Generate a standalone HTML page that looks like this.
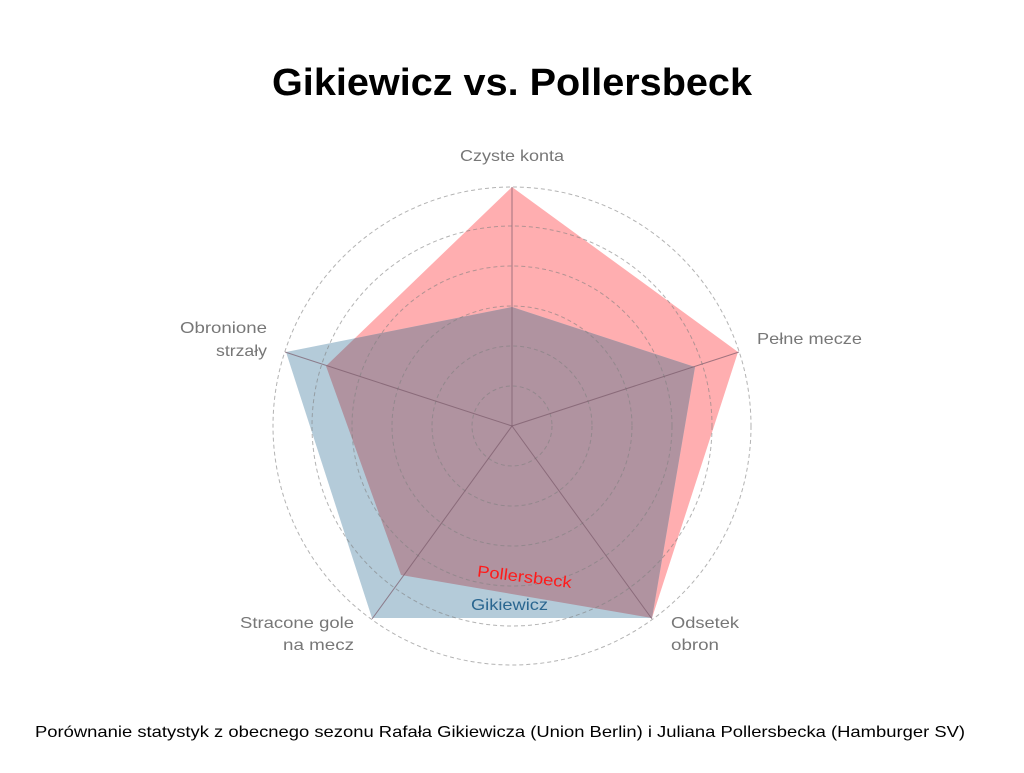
<!DOCTYPE html>
<html><head><meta charset="utf-8"><style>
body{margin:0;background:#fff;width:1024px;height:768px;overflow:hidden}
text{font-family:"Liberation Sans",sans-serif}
</style></head><body>
<svg width="1024" height="768" viewBox="0 0 1024 768" xmlns="http://www.w3.org/2000/svg">
<defs>
<clipPath id="cb"><polygon points="512,307 695,367 652,618 372,618 286,352"/></clipPath>
</defs>
<text x="512" y="95" text-anchor="middle" font-size="38" font-weight="bold" fill="#000" textLength="480" lengthAdjust="spacingAndGlyphs">Gikiewicz vs. Pollersbeck</text>
<polygon points="512,187 738,352 652,618 401,575 326,366" fill="#ffaeb0"/>
<polygon points="512,307 695,367 652,618 372,618 286,352" fill="#b4cbd9"/>
<polygon points="512,187 738,352 652,618 401,575 326,366" fill="#b093a0" clip-path="url(#cb)"/>
<g fill="none" stroke="#808080" stroke-opacity="0.6" stroke-dasharray="4,3" stroke-width="1">
<circle cx="512" cy="426" r="40"/><circle cx="512" cy="426" r="80"/><circle cx="512" cy="426" r="120"/>
<circle cx="512" cy="426" r="160"/><circle cx="512" cy="426" r="200"/><circle cx="512" cy="426" r="239"/>
</g>
<g stroke="#7a5a6a" stroke-opacity="0.7" stroke-width="1">
<line x1="512" y1="426" x2="512" y2="187"/><line x1="512" y1="426" x2="739" y2="352"/>
<line x1="512" y1="426" x2="652" y2="619"/><line x1="512" y1="426" x2="372" y2="619"/>
<line x1="512" y1="426" x2="285" y2="352"/>
</g>
<g font-size="16" fill="#777">
<text x="460" y="161" textLength="104" lengthAdjust="spacingAndGlyphs">Czyste konta</text>
<text x="757" y="344" textLength="105" lengthAdjust="spacingAndGlyphs">Pełne mecze</text>
<text x="180" y="333" textLength="87" lengthAdjust="spacingAndGlyphs">Obronione</text>
<text x="216" y="356" textLength="51" lengthAdjust="spacingAndGlyphs">strzały</text>
<text x="240" y="628" textLength="114" lengthAdjust="spacingAndGlyphs">Stracone gole</text>
<text x="283" y="650" textLength="71" lengthAdjust="spacingAndGlyphs">na mecz</text>
<text x="671" y="628" textLength="68" lengthAdjust="spacingAndGlyphs">Odsetek</text>
<text x="671" y="650" textLength="48" lengthAdjust="spacingAndGlyphs">obron</text>
</g>
<text x="477" y="582" font-size="16" fill="#ff1a1a" transform="rotate(7 523 577)" textLength="95" lengthAdjust="spacingAndGlyphs">Pollersbeck</text>
<text x="471" y="610" font-size="16" fill="#2a6690" textLength="77" lengthAdjust="spacingAndGlyphs">Gikiewicz</text>
<text x="35" y="737" font-size="16" fill="#000" textLength="930" lengthAdjust="spacingAndGlyphs">Porównanie statystyk z obecnego sezonu Rafała Gikiewicza (Union Berlin) i Juliana Pollersbecka (Hamburger SV)</text>
</svg>
</body></html>
